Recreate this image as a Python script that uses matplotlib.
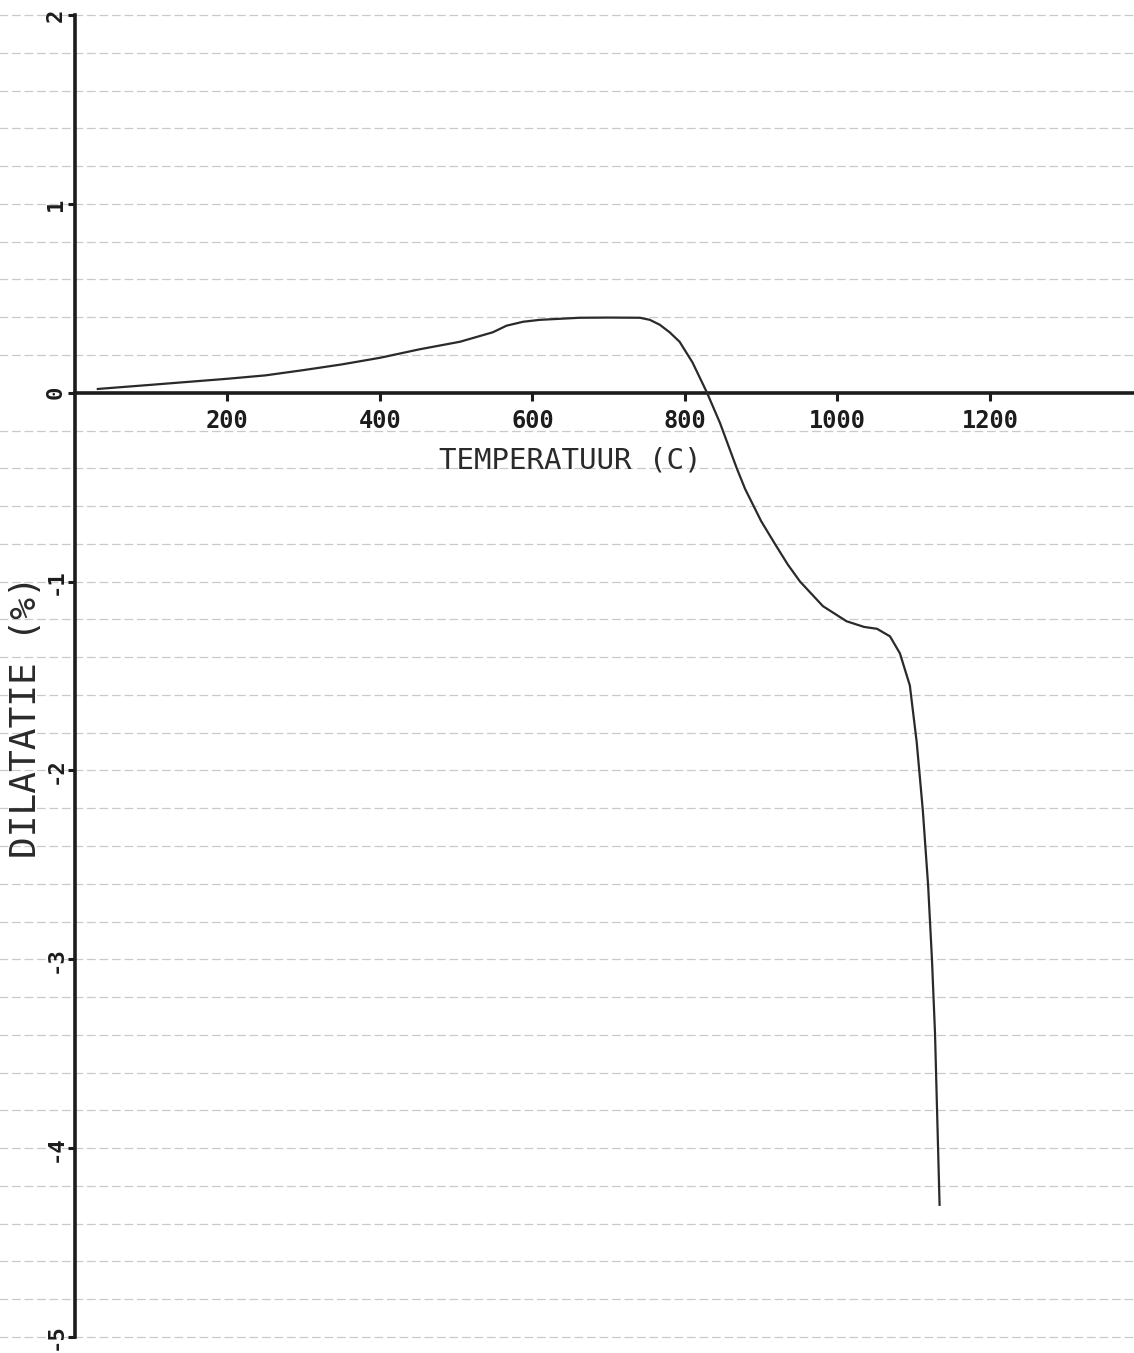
import numpy as np
import matplotlib.pyplot as plt

# dilatometer run: temperature (C) vs dilatation (%)
temperatuur = [30, 100, 150, 200, 250, 300, 350, 400, 452, 505, 548, 566, 588,
               610, 662, 700, 741, 754, 767, 780, 793, 810, 829, 846, 868,
               879, 900, 918, 935, 951, 981, 1012, 1035, 1052, 1069, 1082,
               1095, 1104, 1112, 1119, 1124, 1128, 1134]
dilatatie = [0.02, 0.042, 0.058, 0.074, 0.092, 0.12, 0.15, 0.185, 0.23, 0.27,
             0.32, 0.355, 0.376, 0.386, 0.397, 0.398, 0.397, 0.386, 0.36,
             0.32, 0.27, 0.16, 0.0, -0.16, -0.40, -0.51, -0.68, -0.80, -0.91,
             -1.0, -1.13, -1.21, -1.24, -1.25, -1.29, -1.38, -1.55, -1.85,
             -2.21, -2.61, -3.0, -3.39, -4.30]

x_ticks = [200, 400, 600, 800, 1000, 1200]
y_ticks = [-5, -4, -3, -2, -1, 0, 1, 2]
papier = np.round(np.arange(-5.0, 2.01, 0.2), 1)

font = 'DejaVu Sans Mono'
ink = '#1c1c1c'

fig = plt.figure(figsize=(11.34, 13.53), dpi=100)
ax = fig.add_axes([0.0661, 0.0118, 0.9339, 0.9771])

# ruled paper lines
for y in papier:
    if y == 0:
        continue
    ax.axhline(y, xmin=-0.08, xmax=1.0, color='#cacaca', lw=0.9,
               ls=(0, (7, 3)), clip_on=False, zorder=0)

ax.plot(temperatuur, dilatatie, color='#2a2a2a', lw=1.6, zorder=3)

ax.set_xlim(0, 1389)
ax.set_ylim(-5, 2)

for s in ['top', 'right']:
    ax.spines[s].set_visible(False)
ax.spines['bottom'].set_position(('data', 0))
for s in ['bottom', 'left']:
    ax.spines[s].set_linewidth(2.6)
    ax.spines[s].set_color(ink)

ax.set_xticks(x_ticks)
ax.set_xticklabels([str(t) for t in x_ticks], family=font, fontsize=17,
                   fontweight='bold', color=ink)
ax.set_yticks(y_ticks)
ax.set_yticklabels([str(t) for t in y_ticks], family=font, fontsize=16,
                   fontweight='bold', color=ink, rotation=90, va='center')
ax.tick_params(axis='x', direction='out', length=5.5, width=2.2, pad=6,
               color=ink)
ax.tick_params(axis='y', direction='out', length=5, width=2.2, pad=1.5,
               color=ink)

ax.set_xlabel('TEMPERATUUR (C)', family=font, fontsize=21, color='#2a2a2a',
              va='center')
ax.xaxis.set_label_coords(0.468, 0.663)
ax.set_ylabel('DILATATIE (%)', family=font, fontsize=26, color='#2a2a2a',
              va='center')
ax.yaxis.set_label_coords(-0.046, 0.469)

fig.savefig('out.png', dpi=100)
